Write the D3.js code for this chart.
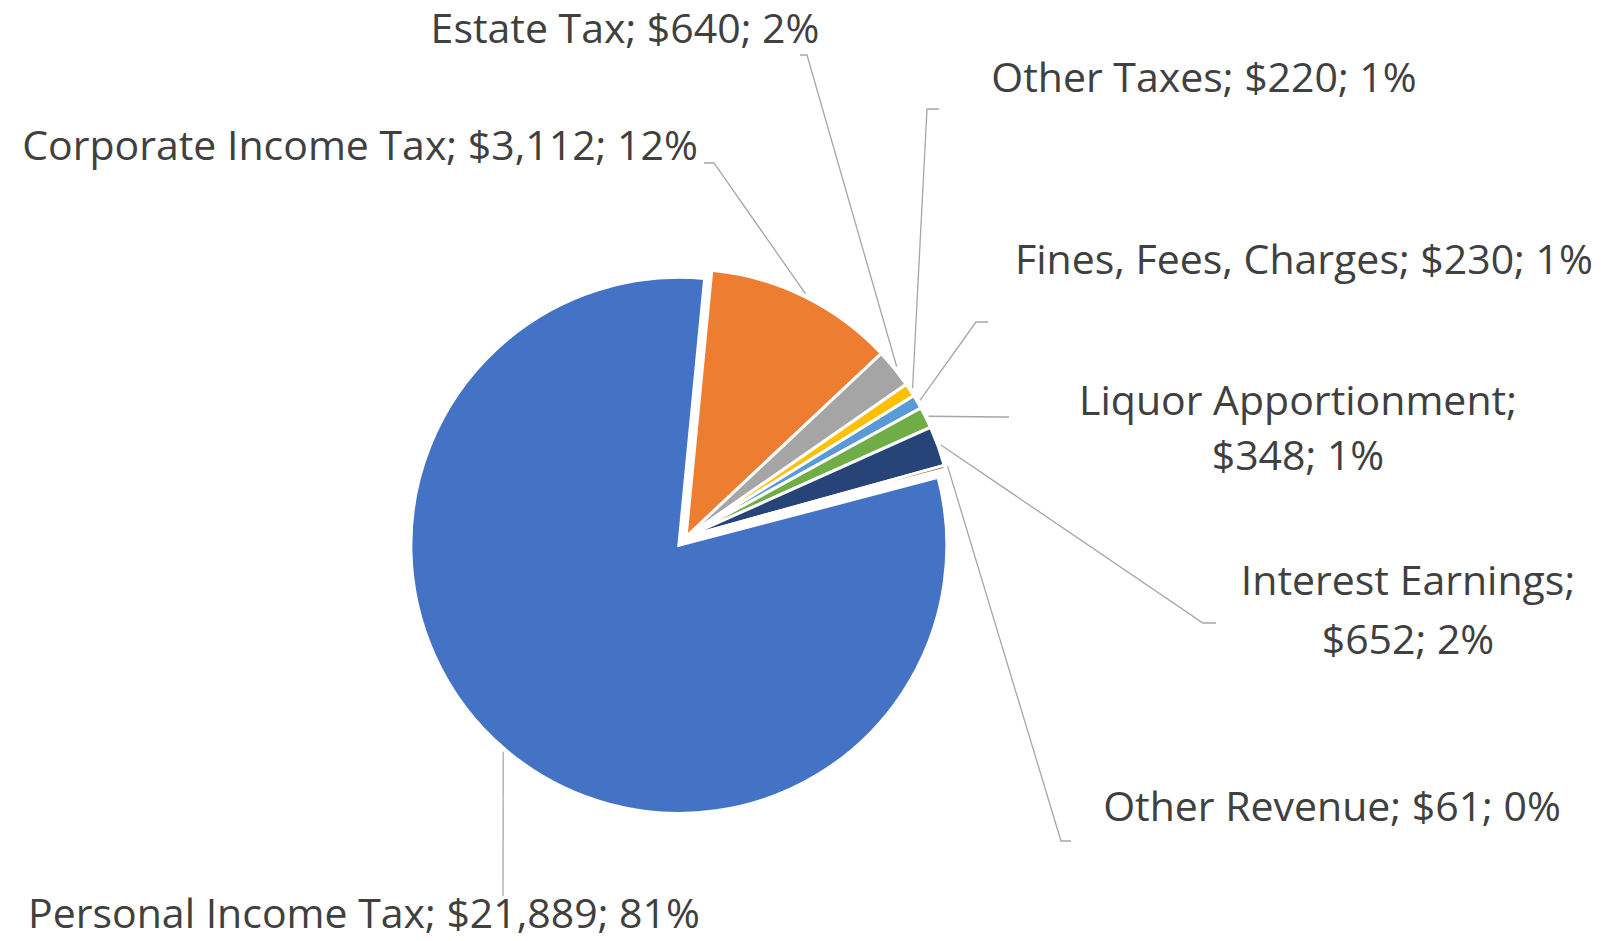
<!DOCTYPE html>
<html lang="en">
<head>
	<meta charset="UTF-8">
	<title>Revenue</title>
	<script src="https://cdn.jsdelivr.net/npm/d3@7/dist/d3.min.js"></script>
	<style>
		body{margin:0;background:#fff;}
		text{font-family:"Open Sans",Lato,sans-serif;fill:#404040;}
	</style>
</head>
<body>
</body>
<script type="text/javascript">
// data
var categories = ["Personal Income Tax","Corporate Income Tax","Estate Tax","Other Taxes",
	"Fines, Fees, Charges","Liquor Apportionment","Interest Earnings","Other Revenue"];
var values = [21889,3112,640,220,230,348,652,61];
var percents = ["81%","12%","2%","1%","1%","1%","2%","0%"];
var colors = ["#4472C4","#ED7D31","#A5A5A5","#FFC000","#5B9BD5","#70AD47","#264478","#9E480E"];
// label layout: text centre x, first baseline y, line breaks, leader elbow
var labelX = [364,360,625,1204,1304,1298,1408,1332];
var labelY = [928,160,43,92,274,415,595,821];
var twoLine = [false,false,false,false,false,true,true,false];
var elbows = [[[503,896]],[[704,163],[714,163]],[[800,55],[807,55]],[[939,109],[927,109]],
	[[988,322],[976,322]],[[1009,417],[999,417]],[[1216,623],[1203,623]],[[1071,841],[1061,841]]];

var width = 1618, height = 941;
var cx = 686, cy = 537, r = 268, explode = 11;
var svg = d3.select("body").append("svg").attr("width",width).attr("height",height);

var fmt = d3.format(",");
var pie = d3.pie().sort(null).startAngle(75.3*Math.PI/180).endAngle(75.3*Math.PI/180+2*Math.PI);
var arcs = pie(values);
var arc = d3.arc().innerRadius(0).outerRadius(r);

// offset for exploded slice (first one)
function offset(d,i){
	if(i!==0) return [0,0];
	var a = (d.startAngle+d.endAngle)/2;
	return [explode*Math.sin(a), -explode*Math.cos(a)];
}

var g = svg.append("g").attr("transform","translate("+cx+","+cy+")");
g.selectAll(".slice").data(arcs).enter().append("path").attr("class","slice")
	.attr("d",arc)
	.attr("transform",function(d,i){var o=offset(d,i);return "translate("+o[0]+","+o[1]+")";})
	.attr("fill",function(d,i){return colors[i];})
	.attr("stroke","#fff").attr("stroke-width",3).attr("stroke-linejoin","miter");

// leader lines
var line = d3.line();
svg.selectAll(".leader").data(arcs).enter().append("path").attr("class","leader")
	.attr("d",function(d,i){
		var a = (d.startAngle+d.endAngle)/2, o = offset(d,i);
		var p = [cx+o[0]+(r+3)*Math.sin(a), cy+o[1]-(r+3)*Math.cos(a)];
		return line(elbows[i].concat([p]));
	})
	.attr("fill","none").attr("stroke","#A6A6A6").attr("stroke-width",1.3);

// labels
svg.selectAll(".lbl").data(arcs).enter().append("text").attr("class","lbl")
	.attr("text-anchor","middle").attr("font-size",41)
	.each(function(d,i){
		var money = "$"+fmt(values[i]);
		var t = d3.select(this);
		if(twoLine[i]){
			t.append("tspan").attr("x",labelX[i]).attr("y",labelY[i]).text(categories[i]+";");
			t.append("tspan").attr("x",labelX[i]).attr("dy",labelY[i]>500?59:55).text(money+"; "+percents[i]);
		} else {
			t.append("tspan").attr("x",labelX[i]).attr("y",labelY[i]).text(categories[i]+"; "+money+"; "+percents[i]);
		}
	});
</script>
</html>
